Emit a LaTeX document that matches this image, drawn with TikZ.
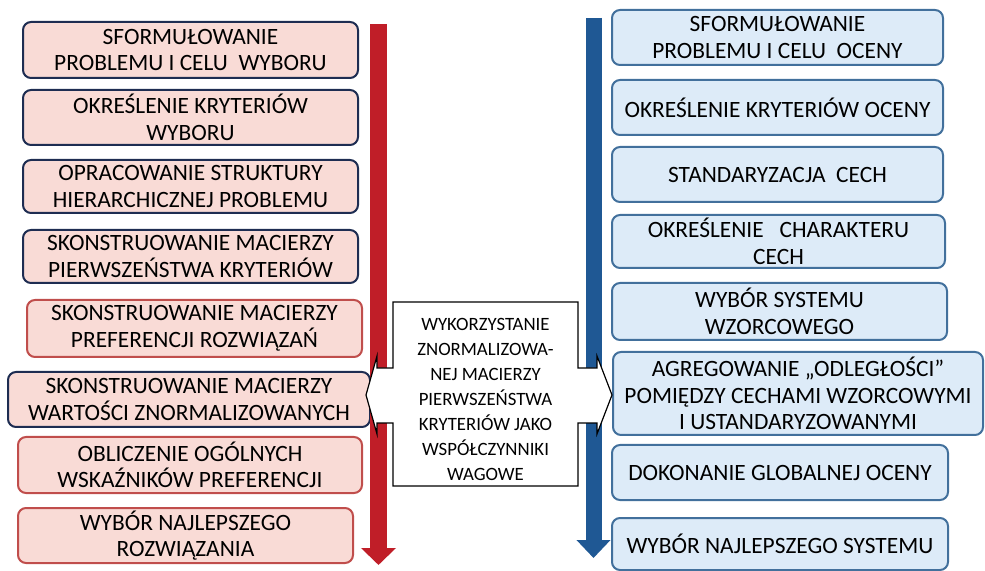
\documentclass[tikz,border=0pt]{standalone}
\usepackage{fontspec}
\setmainfont{Carlito}
\usetikzlibrary{arrows.meta}

\definecolor{pinkfill}{RGB}{249,219,214}
\definecolor{bluefill}{RGB}{221,235,248}
\definecolor{navyline}{RGB}{30,45,82}
\definecolor{redline}{RGB}{192,78,76}
\definecolor{blueline}{RGB}{66,112,156}
\definecolor{redbar}{RGB}{192,30,40}
\definecolor{bluebar}{RGB}{31,88,148}

\begin{document}
\begin{tikzpicture}
	[
	x=0.5pt, y=-0.5pt,
	align=center,
	box/.style={rounded corners=4pt,line width=1pt,inner sep=0pt,
		font=\fontsize{11.7}{13.3}\selectfont},
	navybox/.style={box,fill=pinkfill,draw=navyline},
	rosebox/.style={box,fill=pinkfill,draw=redline},
	skybox/.style={box,fill=bluefill,draw=blueline},
	flowbar/.style={line width=#1,line cap=butt},
	callout/.style={fill=white,draw=black,line width=0.6pt},
	]
		\useasboundingbox (0,0) rectangle (985,571);

		% left column
		\node[navybox,minimum width=167.5pt,minimum height=28pt] (l1) at (190.5,50)
			{SFORMUŁOWANIE\\PROBLEMU I CELU~ WYBORU};
		\node[navybox,minimum width=167.5pt,minimum height=27.5pt] (l2) at (190.5,117.5)
			{OKREŚLENIE KRYTERIÓW\\WYBORU};
		\node[navybox,minimum width=167.5pt,minimum height=26.5pt] (l3) at (190.5,186.5)
			{OPRACOWANIE STRUKTURY\\HIERARCHICZNEJ PROBLEMU};
		\node[navybox,minimum width=167.5pt,minimum height=26.5pt] (l4) at (190.5,256.5)
			{SKONSTRUOWANIE MACIERZY\\PIERWSZEŃSTWA KRYTERIÓW};
		\node[rosebox,minimum width=167.5pt,minimum height=28.5pt] (l5) at (194.5,328.5)
			{SKONSTRUOWANIE MACIERZY\\PREFERENCJI ROZWIĄZAŃ};
		\node[navybox,minimum width=181pt,minimum height=27.5pt] (l6) at (189,399.5)
			{SKONSTRUOWANIE MACIERZY\\WARTOŚCI ZNORMALIZOWANYCH};
		\node[rosebox,minimum width=172pt,minimum height=28pt] (l7) at (190,465)
			{OBLICZENIE OGÓLNYCH\\WSKAŹNIKÓW PREFERENCJI};
		\node[rosebox,minimum width=167.5pt,minimum height=27.5pt] (l8) at (185.5,535.5)
			{WYBÓR NAJLEPSZEGO\\ROZWIĄZANIA};

		% right column
		\node[skybox,minimum width=165.5pt,minimum height=27.5pt] (r1) at (777.5,37.5)
			{SFORMUŁOWANIE\\PROBLEMU I CELU~ OCENY};
		\node[skybox,minimum width=165.5pt,minimum height=27.5pt] (r2) at (777.5,107.5)
			{OKREŚLENIE KRYTERIÓW OCENY};
		\node[skybox,minimum width=165.5pt,minimum height=27.5pt] (r3) at (777.5,174.5)
			{STANDARYZACJA~ CECH};
		\node[skybox,minimum width=166.5pt,minimum height=26.5pt] (r4) at (778.5,241.5)
			{OKREŚLENIE~~ CHARAKTERU\\CECH};
		\node[skybox,minimum width=167.5pt,minimum height=28.5pt] (r5) at (779.5,311.5)
			{WYBÓR SYSTEMU\\WZORCOWEGO};
		\node[skybox,minimum width=185pt,minimum height=41.5pt] (r6) at (798,393.5)
			{AGREGOWANIE „ODLEGŁOŚCI”\\POMIĘDZY CECHAMI WZORCOWYMI\\I USTANDARYZOWANYMI};
		\node[skybox,minimum width=168pt,minimum height=27.5pt] (r7) at (780,472.5)
			{DOKONANIE GLOBALNEJ OCENY};
		\node[skybox,minimum width=168pt,minimum height=26pt] (r8) at (780,544)
			{WYBÓR NAJLEPSZEGO SYSTEMU};

		% flow bars
		\coordinate (redtop) at (378.5,24);
		\coordinate (redend) at (378.5,565);
		\coordinate (bluetop) at (593.5,18);
		\coordinate (blueend) at (593.5,558);
		\draw[flowbar=8.5pt,redbar,-{Triangle[width=17pt,length=8.5pt]}] (redtop) -- (redend);
		\draw[flowbar=8pt,bluebar,-{Triangle[width=16.5pt,length=9pt]}] (bluetop) -- (blueend);

		% double arrow callout
		\draw[callout] (393,302) -- (578,302) -- (578,368) -- (597,368) -- (597,356)
			-- (612,395) -- (597,434) -- (597,423) -- (578,423) -- (578,486)
			-- (393,486) -- (393,423) -- (377,423) -- (377,434) -- (366,395)
			-- (377,356) -- (377,368) -- (393,368) -- cycle;
		\node[inner sep=0pt,font=\fontsize{9.4}{12.5}\selectfont] (usage) at (485.5,399)
			{WYKORZYSTANIE\\ZNORMALIZOWA-\\NEJ MACIERZY\\PIERWSZEŃSTWA\\KRYTERIÓW JAKO\\WSPÓŁCZYNNIKI\\WAGOWE};

	\end{tikzpicture}
\end{document}
